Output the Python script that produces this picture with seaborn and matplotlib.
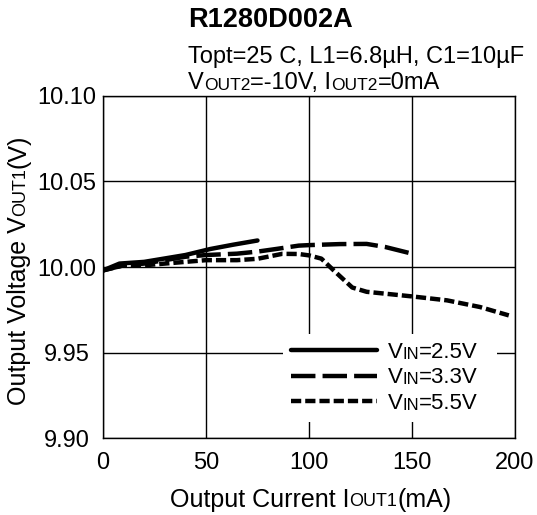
import pandas as pd
import seaborn as sns
import matplotlib.pyplot as plt

# Curves: output current (mA) vs output voltage (V)
iout_25 = [0, 8, 20, 30, 40, 52, 63, 75]
vout_25 = [9.998, 10.002, 10.003, 10.005, 10.007, 10.0105, 10.013, 10.0155]

iout_33 = [0, 10, 20, 30, 40, 50, 65, 75, 85, 95, 100, 115, 128, 137, 150]
vout_33 = [9.998, 10.001, 10.002, 10.004, 10.006, 10.007, 10.0078, 10.009,
           10.0107, 10.0125, 10.0128, 10.0134, 10.0135, 10.0117, 10.0078]

iout_55 = [0, 10, 20, 30, 40, 50, 65, 75, 80, 87, 95, 100, 106, 112, 121,
           128, 150, 167, 183, 197]
vout_55 = [9.998, 10.001, 10.001, 10.002, 10.003, 10.004, 10.004, 10.0048,
           10.006, 10.0077, 10.0076, 10.0068, 10.0049, 9.998, 9.988, 9.9855,
           9.9828, 9.9805, 9.9766, 9.9717]

vin_levels = ['2.5V', '3.3V', '5.5V']
x_ticks = [0, 50, 100, 150, 200]
y_ticks = [9.90, 9.95, 10.00, 10.05, 10.10]
y_tick_labels = ['9.90', '9.95', '10.00', '10.05', '10.10']

df = pd.concat([
    pd.DataFrame({'Iout': iout_25, 'Vout': vout_25, 'Vin': '2.5V'}),
    pd.DataFrame({'Iout': iout_33, 'Vout': vout_33, 'Vin': '3.3V'}),
    pd.DataFrame({'Iout': iout_55, 'Vout': vout_55, 'Vin': '5.5V'}),
], ignore_index=True)

sns.set_style('white')
plt.rcParams['font.family'] = ['Liberation Sans', 'DejaVu Sans']
plt.rcParams['axes.edgecolor'] = 'black'
plt.rcParams['axes.linewidth'] = 1.0
plt.rcParams['text.color'] = 'black'

fig = plt.figure(figsize=(5.37, 5.15), dpi=100)
ax = fig.add_axes([0.1918, 0.1495, 0.7672, 0.6641])

sns.lineplot(data=df, x='Iout', y='Vout', style='Vin', style_order=vin_levels,
             dashes={'2.5V': '', '3.3V': (5.5, 1.6), '5.5V': (2.3, 0.9)},
             color='black', linewidth=3.2, estimator=None, sort=False,
             legend=False, ax=ax)

ax.set_xlim(0, 200)
ax.set_ylim(9.90, 10.10)
ax.set_xticks(x_ticks)
ax.set_yticks(y_ticks, labels=y_tick_labels)
ax.grid(True, color='black', linewidth=1.0)
ax.tick_params(axis='both', length=0, labelsize=17, labelcolor='black')
ax.tick_params(axis='x', pad=10)
ax.tick_params(axis='y', pad=26)
for lbl in ax.get_yticklabels():
    lbl.set_ha('center')
ax.set_xlabel('')
ax.set_ylabel('')

K_DESC = 0.21


def rich(parts, x, y, rotation=0, weight='normal'):
    # draw text pieces of different sizes one after another on one baseline
    s0, size0 = parts[0]
    if rotation == 0:
        t = ax.annotate(s0, xy=(x, y), xycoords='figure fraction', ha='left',
                        va='baseline', fontsize=size0, weight=weight, zorder=10)
    else:
        t = ax.annotate(s0, xy=(x, y), xycoords='figure fraction', ha='right',
                        va='bottom', rotation=90, fontsize=size0, weight=weight,
                        zorder=10)
    prev, prev_size = t, size0
    for s, size in parts[1:]:
        d = K_DESC * (prev_size - size)
        if rotation == 0:
            t = ax.annotate(s, xy=(1, 0), xycoords=prev, xytext=(0, d),
                            textcoords='offset points', ha='left', va='bottom',
                            fontsize=size, weight=weight, zorder=10)
        else:
            t = ax.annotate(s, xy=(1, 1), xycoords=prev, xytext=(-d, 0),
                            textcoords='offset points', ha='right', va='bottom',
                            rotation=90, fontsize=size, weight=weight, zorder=10)
        prev, prev_size = t, size
    return t


def chain(prev, parts, prev_size):
    for s, size in parts:
        d = K_DESC * (prev_size - size)
        prev = ax.annotate(s, xy=(1, 0), xycoords=prev, xytext=(0, d),
                           textcoords='offset points', ha='left', va='bottom',
                           fontsize=size, zorder=10)
        prev_size = size
    return prev


# legend: "V" as label, the rest chained after it
handles = ax.get_lines()[:3]
leg = ax.legend(handles, ['V', 'V', 'V'], loc='upper left',
                bbox_to_anchor=(0.437, 0.032, 0.519, 0.272), mode='expand',
                borderaxespad=0, borderpad=0.35, fontsize=16, handlelength=3.9,
                handletextpad=0.45, labelspacing=0.21, frameon=True,
                facecolor='white', edgecolor='none', framealpha=1.0,
                fancybox=False)
for txt, v in zip(leg.get_texts(), vin_levels):
    txt.set_color('black')
    chain(txt, [('IN', 12), ('=' + v, 16)], 16)

# title block
ax.annotate('R1280D002A', xy=(0.350, 0.948), xycoords='figure fraction',
            ha='left', va='baseline', fontsize=19.5, weight='bold')
ax.annotate('Topt=25 C, L1=6.8\u00b5H, C1=10\u00b5F', xy=(0.350, 0.878),
            xycoords='figure fraction', ha='left', va='baseline', fontsize=17)
rich([('V', 17), ('OUT2', 12.5), ('=-10V, I', 17), ('OUT2', 12.5),
      ('=0mA', 17)], 0.350, 0.827)

# axis labels
rich([('Output Current I', 18), ('OUT1', 13), ('(mA)', 18)], 0.316, 0.0161)
rich([('Output Voltage V', 18), ('OUT1', 13), ('(V)', 18)], 0.0577, 0.2136,
     rotation=90)

fig.savefig('out.png', dpi=100)
